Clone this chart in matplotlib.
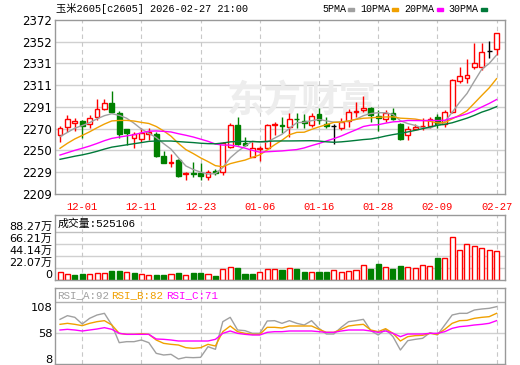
import numpy as np
import pandas as pd
import matplotlib
matplotlib.use('Agg')
import matplotlib.pyplot as plt
from matplotlib.patches import Rectangle

W, H = 520, 365
RED = '#ff0000'
GREEN = '#008000'
GRID = '#d0d0d0'
FRAME = '#999999'
MONO = ['Liberation Mono', 'Noto Sans CJK SC']
SANS = ['DejaVu Sans', 'Noto Sans CJK SC']

title = '玉米2605[c2605] 2026-02-27 21:00'
dates = ['12-01', '12-11', '12-23', '01-06', '01-16', '01-28', '02-09', '02-27']
date_idx = [3, 11, 19, 27, 35, 43, 51, 59]

# closes before the window (only needed so the moving averages start right)
hist_close = [2236, 2233, 2235, 2234, 2234, 2232, 2231, 2233, 2234, 2233,
              2235, 2233, 2234, 2238, 2240, 2242, 2243, 2241, 2244, 2242,
              2232, 2236, 2240, 2246, 2250.5,
              2259, 2257, 2260.7, 2266]

opens = [2264.3, 2271.5, 2275.5, 2277.4, 2274.3, 2280.8, 2288.9, 2294.0, 2285.2, 2269.6,
         2261.2, 2260.2, 2265.6, 2265.2, 2244.6, 2238.3, 2240.8, 2228.0, 2228.5, 2228.4,
         2224.6, 2230.8, 2229.9, 2253.3, 2273.6, 2256.8, 2244.0, 2251.2, 2251.8, 2273.6,
         2273.5, 2272.0, 2279.5, 2277.4, 2273.6, 2283.7, 2274.3, 2273.0, 2271.1, 2277.7,
         2286.0, 2287.7, 2289.3, 2282.0, 2279.3, 2285.2, 2274.3, 2264.3, 2270.2, 2272.5,
         2272.7, 2280.8, 2274.6, 2285.5, 2314.9, 2318.0, 2328.3, 2327.7, 2342.5, 2344.6]
highs = [2272.7, 2283.0, 2280.5, 2278.3, 2283.0, 2298.0, 2298.0, 2305.8, 2287.0, 2269.6,
         2267.4, 2270.5, 2270.5, 2267.4, 2249.6, 2246.5, 2242.0, 2229.9, 2238.7, 2237.8,
         2231.5, 2232.1, 2258.0, 2275.2, 2280.8, 2262.7, 2258.0, 2254.0, 2274.6, 2276.7,
         2280.8, 2284.6, 2285.2, 2283.9, 2284.6, 2289.3, 2280.8, 2274.6, 2279.9, 2288.3,
         2295.5, 2300.8, 2290.2, 2287.7, 2287.7, 2289.3, 2275.5, 2272.7, 2274.3, 2279.9,
         2281.4, 2283.7, 2287.7, 2316.4, 2328.3, 2335.2, 2350.2, 2350.2, 2352.6, 2359.5]
lows = [2257.7, 2267.4, 2268.0, 2261.5, 2270.5, 2278.3, 2287.7, 2285.2, 2261.2, 2254.9,
        2251.8, 2258.0, 2259.6, 2244.0, 2237.8, 2234.6, 2225.2, 2222.0, 2225.2, 2222.0,
        2222.0, 2226.8, 2226.8, 2251.8, 2254.9, 2254.0, 2243.4, 2239.9, 2250.9, 2264.3,
        2265.9, 2262.0, 2270.5, 2270.5, 2272.0, 2274.6, 2270.5, 2256.0, 2268.9, 2272.0,
        2280.8, 2286.1, 2276.7, 2268.3, 2276.7, 2278.3, 2259.6, 2259.6, 2268.9, 2268.9,
        2270.5, 2270.5, 2272.0, 2284.6, 2312.7, 2312.7, 2325.8, 2325.2, 2336.1, 2339.2]
closes = [2270.8, 2279.0, 2277.0, 2272.7, 2279.9, 2288.3, 2294.0, 2286.1, 2265.2, 2266.4,
          2264.9, 2266.4, 2266.8, 2244.6, 2238.3, 2239.0, 2226.1, 2228.5, 2228.0, 2225.9,
          2229.9, 2228.4, 2256.5, 2273.6, 2255.8, 2254.9, 2251.8, 2252.0, 2273.6, 2274.6,
          2272.7, 2279.3, 2279.0, 2275.2, 2282.3, 2278.3, 2272.7, 2273.0, 2276.7, 2285.5,
          2287.0, 2289.8, 2283.0, 2280.5, 2285.2, 2279.3, 2260.2, 2269.6, 2272.0, 2273.0,
          2279.0, 2274.3, 2285.5, 2315.8, 2319.8, 2320.2, 2332.0, 2341.7, 2342.5, 2359.5]
volumes = [141600, 104800, 86400, 104800, 104800, 123200, 123200, 165500, 165500, 141600,
           123200, 104800, 86400, 86400, 86400, 104800, 123200, 86400, 123200, 123200,
           104800, 73600, 202300, 233600, 215200, 104800, 104800, 152600, 202300, 202300,
           183900, 215200, 202300, 152600, 141600, 141600, 141600, 183900, 141600, 165500,
           183900, 270300, 202300, 288700, 233600, 202300, 257500, 244600, 215200, 270300,
           257500, 404600, 399100, 785300, 551700, 656500, 619700, 583000, 551700, 525106]

rsi_a = [73, 78.5, 76, 66, 74.5, 79.5, 82, 64.5, 38, 39.5,
         39.5, 42, 38, 22, 19.5, 20.5, 13.5, 16, 15.5, 16,
         32, 28, 69.5, 76, 57, 56, 52, 52, 70.5, 71,
         67, 71, 67, 64.5, 71, 59.5, 51, 51, 61, 69.5,
         71, 73, 56, 49.5, 58, 47, 27, 41, 43, 44.5,
         53, 49.5, 64.5, 79.5, 82, 82, 87, 88.5, 89.5, 92]
rsi_b = [65.5, 67, 65.5, 63.5, 67, 69.5, 71, 64.5, 52, 50.5,
         50.5, 51.5, 50.5, 42, 37, 35.5, 34.5, 30.5, 29.5, 30.5,
         35.5, 33, 54.5, 63, 54.5, 52, 50.5, 50.5, 61, 61,
         60, 63, 63, 63, 63, 58, 53.5, 53.5, 58, 63,
         64.5, 65.5, 57, 54.5, 59, 52, 40.5, 47, 48.5, 49,
         52, 50.5, 58, 67, 71, 71.5, 74.5, 76, 77, 82]
rsi_c = [57, 58, 57, 55.5, 57, 58.5, 60.5, 58, 52, 50.5,
         50.5, 50.5, 50.5, 43.5, 43, 42, 40.5, 40.5, 40.5, 40.5,
         40.5, 43, 52, 55.5, 52, 50.5, 49.5, 49.5, 53.5, 54.5,
         54.5, 55.5, 55.5, 55.5, 55.5, 54.5, 53.5, 53.5, 55.5, 57,
         57, 57, 55.5, 53.5, 55.5, 52, 47, 51, 51, 51,
         52, 52, 54.5, 59.5, 62, 63, 64.5, 65.5, 67, 71]

price_ticks = np.linspace(2209, 2372, 9)
vol_ticks = [0, 220685, 441370, 662055, 882740]
# the source prints these labels at these heights of its RSI scale
rsi_ticks = [13.5, 52, 91.5]
rsi_tick_labels = ['8', '58', '108']

ma_list = [(5, '5PMA', '#a0a0a0'), (10, '10PMA', '#f0a000'),
           (20, '20PMA', '#ff00ff'), (30, '30PMA', '#007a3a')]
rsi_list = [(rsi_a, 'RSI_A', '#a0a0a0'), (rsi_b, 'RSI_B', '#f0a000'),
            (rsi_c, 'RSI_C', '#ff00ff')]

n_hist = len(hist_close)
full = pd.Series(hist_close + closes, dtype=float)
x = np.arange(len(closes))
o, h, l, c = (np.array(v, dtype=float) for v in (opens, highs, lows, closes))
prev_c = full.shift(1).iloc[n_hist:].to_numpy()

fig = plt.figure(figsize=(W / 100, H / 100), dpi=100)


def px_axes(x0, y0, x1, y1):
    return fig.add_axes([x0 / W, 1 - y1 / H, (x1 - x0) / W, (y1 - y0) / H])


def frame(a):
    for s in a.spines.values():
        s.set_color(FRAME)
        s.set_linewidth(1)
    a.tick_params(length=0, colors='black')


def vgrid(a):
    for i in date_idx:
        a.axvline(i, color='#c8c8c8', lw=0.8, ls=(0, (4, 3)), zorder=0)


xlim = (-0.68, 60.14)

# ---- main candle panel
ax = px_axes(55, 20, 505, 194)
frame(ax)
ax.set_xlim(*xlim)
ax.set_ylim(2209, 2372)
ax.set_yticks(price_ticks)
ax.set_yticklabels(['%d' % np.floor(v + 0.5) for v in price_ticks], fontsize=8.5, family=SANS)
ax.tick_params(axis='y', pad=2)
ax.set_xticks(date_idx)
ax.set_xticklabels(dates, color=RED, fontsize=7.6, family=MONO)
ax.tick_params(axis='x', pad=6)
for v in price_ticks[1:-1]:
    ax.axhline(v, color=GRID, lw=1, zorder=0)
vgrid(ax)

ax.text(227 / W, 1 - 101 / H, '东方财富', transform=fig.transFigure, fontsize=27,
        fontweight='bold', color='#ededed', family='Noto Sans CJK SC', va='center',
        ha='left', zorder=0.5)

up = c > o
dn = c < o
flat = c == o
lo = np.minimum(o, c)
hi = np.maximum(o, c)
cc = np.where(up, RED, np.where(dn, GREEN, 'black'))
ax.vlines(x, hi, h, colors=cc, lw=1, zorder=2)
ax.vlines(x, l, lo, colors=cc, lw=1, zorder=2)
ax.bar(x[up], (hi - lo)[up], bottom=lo[up], width=0.64, facecolor='white',
       edgecolor=RED, lw=1, zorder=2)
ax.bar(x[dn], (hi - lo)[dn], bottom=lo[dn], width=0.64, facecolor=GREEN,
       edgecolor=GREEN, lw=1, zorder=2)
ax.hlines(c[flat], x[flat] - 0.35, x[flat] + 0.35, colors='black', lw=1, zorder=2)

for n, name, col in ma_list:
    ma = full.rolling(n).mean().iloc[n_hist:].to_numpy()
    ax.plot(x, ma, color=col, lw=1, zorder=3)

fig.text(56 / W, 1 - 9 / H, title, fontsize=7.4, family=MONO, va='center', ha='left')
lx = 322
for n, name, col in ma_list:
    fig.text(lx / W, 1 - 9 / H, name, fontsize=7.2, family=MONO, va='center', ha='left')
    wpx = 6.05 * len(name)
    fig.patches.append(Rectangle(((lx + wpx + 2) / W, 1 - 10.5 / H), 6 / W, 3 / H,
                                 transform=fig.transFigure, color=col))
    lx += wpx + 14

# ---- volume panel
axv = px_axes(55, 215, 505, 280)
frame(axv)
axv.set_xlim(*xlim)
axv.set_ylim(0, vol_ticks[-1] * 65 / 48)
axv.set_xticks([])
axv.set_yticks(vol_ticks)
axv.set_yticklabels(['0'] + ['%.2f万' % (v / 1e4) for v in vol_ticks[1:]],
                    fontsize=8, family=SANS, va='bottom')
axv.tick_params(axis='y', pad=2)
for v in vol_ticks[1:-1]:
    axv.axhline(v, color=GRID, lw=1, zorder=0)
axv.axhline(vol_ticks[-1], color='#c0c0c0', lw=1, zorder=0)
vgrid(axv)
vol = np.array(volumes, dtype=float)
vup = c >= prev_c
axv.bar(x[vup], vol[vup], width=0.68, facecolor='white', edgecolor=RED, lw=1, zorder=2)
axv.bar(x[~vup], vol[~vup], width=0.68, facecolor=GREEN, edgecolor=GREEN, lw=1, zorder=2)
axv.text(0.006, 1 - 8.5 / 65, '成交量:%d' % volumes[-1], transform=axv.transAxes,
         fontsize=7.8, family=MONO, va='center', ha='left')

# ---- RSI panel
axr = px_axes(55, 288, 505, 364)
frame(axr)
axr.set_xlim(*xlim)
axr.set_ylim(6, 120)
axr.set_xticks([])
axr.set_yticks(rsi_ticks)
axr.set_yticklabels(rsi_tick_labels, fontsize=8.2, family=SANS)
axr.tick_params(axis='y', pad=2)
axr.axhline(rsi_ticks[1], color=GRID, lw=1, zorder=0)
axr.axhline(99.5, color='#b0b0b0', lw=1, zorder=0)
vgrid(axr)
hx = 57
for vals, name, col in rsi_list:
    axr.plot(x, vals, color=col, lw=1, zorder=3)
    fig.text(hx / W, 1 - 295 / H, '%s:%d' % (name, vals[-1]), fontsize=7.8, family=MONO,
             color=col, va='center', ha='left')
    hx += 54.5

fig.savefig('out.png', dpi=100, facecolor='white')
